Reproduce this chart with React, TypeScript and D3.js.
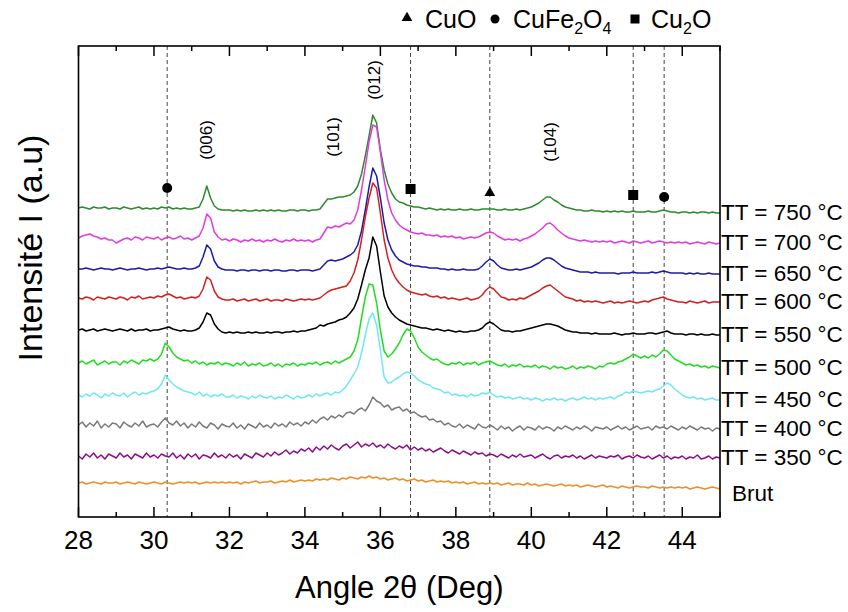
import React from 'react';
import * as d3 from 'd3';

// ---- Data ----
const angleStart = 28;
const angleStep = 0.1;
const angleCount = 171;
const angles = d3.range(angleCount).map(i => +(angleStart + i * angleStep).toFixed(1));

const seriesLabels = ['TT = 750 °C', 'TT = 700 °C', 'TT = 650 °C', 'TT = 600 °C', 'TT = 550 °C', 'TT = 500 °C', 'TT = 450 °C', 'TT = 400 °C', 'TT = 350 °C', 'Brut'];
const seriesColors = ['#2e8b2e', '#e03ce0', '#1c1caa', '#d42020', '#000000', '#22dd22', '#70e8f0', '#7a7a7a', '#8b0f8b', '#ef8f25'];
const seriesOffsets = [309, 279, 248, 219, 187, 154, 122, 92, 61, 34];

const s750 = [
  0, 1, 0, -1, 1, 0, 0, 1, -1, 0,
  0, -1, 1, 0, -1, 0, 1, -1, 0, -1,
  0, -1, 1, 0, 1, -1, 0, -1, 0, -1,
  -1, 0, 1, 9, 22, 10, 2, -1, -2, -2,
  -2, -3, -2, -3, -2, -3, -3, -2, -3, -2,
  -3, -2, -3, -2, -3, -3, -2, -2, -3, -2,
  -2, -3, -2, -2, -1, 4, 9, 9, 10, 11,
  11, 12, 13, 16, 22, 34, 52, 72, 93, 85,
  58, 38, 24, 15, 9, 6, 5, 3, 2, 1,
  1, 0, -1, 0, -1, -2, -1, -2, -1, -2,
  -2, -1, -2, -2, -1, -2, -2, -1, -1, -1,
  -1, -2, -2, -1, -2, -2, -1, -2, -1, 0,
  1, 3, 5, 8, 11, 11, 8, 6, 3, 1,
  0, -1, -2, -2, -3, -3, -2, -3, -3, -4,
  -3, -4, -3, -4, -3, -4, -4, -3, -4, -4,
  -4, -3, -4, -4, -3, -2, -3, -4, -4, -5,
  -4, -4, -5, -4, -5, -4, -4, -5, -4, -5,
  -5,
];
const s700 = [
  0, 2, 3, 4, 2, 1, -1, 0, -2, -2,
  -5, -3, -1, 0, -2, 1, 0, -2, 1, 0,
  -1, 1, -2, 0, 1, -1, 0, 2, -1, 0,
  -2, 0, 2, 10, 24, 20, 6, 1, -2, -1,
  -3, -1, -2, -4, -2, -3, -1, -3, -2, -4,
  -2, -3, -1, -3, -4, -2, -3, -1, -3, -2,
  -3, -2, -4, -2, -1, 5, 11, 10, 12, 11,
  13, 15, 14, 18, 28, 48, 71, 96, 113, 111,
  86, 58, 38, 25, 18, 13, 10, 8, 6, 5,
  4, 5, 3, 3, 2, 3, 1, 2, 1, 2,
  0, 1, -1, 0, 1, 0, 1, 3, 5, 6,
  5, 2, 0, -2, -1, -2, -1, -3, -1, 0,
  2, 4, 7, 10, 14, 15, 12, 8, 5, 2,
  0, -1, -2, -3, -2, -3, -4, -3, -4, -3,
  -4, -3, -5, -4, -3, -4, -5, -3, -4, -5,
  -4, -3, -5, -4, -3, -4, -5, -4, -5, -4,
  -5, -4, -6, -5, -4, -5, -6, -4, -5, -6,
  -5,
];
const s650 = [
  0, 0, 1, 0, -1, 0, 1, 0, 0, -1,
  0, 1, 0, -1, 0, 0, 1, 0, -1, 0,
  0, 1, 0, 1, 2, 1, 0, 0, 1, 0,
  0, 1, 3, 12, 24, 20, 8, 2, 0, -1,
  -1, -1, -2, -1, -1, -2, -1, -1, -2, -1,
  -1, -2, -1, -1, -2, -2, -1, -1, -2, -1,
  -1, -1, -2, -1, 0, 4, 8, 9, 8, 9,
  10, 12, 14, 17, 24, 38, 59, 82, 101, 93,
  71, 46, 29, 19, 13, 9, 7, 5, 4, 3,
  3, 2, 2, 1, 1, 1, 0, 0, -1, 0,
  -1, -1, 0, -1, -1, -1, 0, 3, 7, 10,
  8, 4, 1, 0, -1, -1, 0, -1, 0, 1,
  2, 4, 6, 9, 11, 11, 9, 6, 3, 1,
  0, -1, -2, -3, -3, -3, -4, -3, -4, -4,
  -4, -4, -4, -5, -4, -4, -4, -3, -4, -4,
  -4, -4, -3, -4, -3, -2, -3, -4, -4, -4,
  -4, -5, -4, -5, -4, -5, -5, -4, -5, -5,
  -5,
];
const s600 = [
  0, -1, 1, 0, -2, 1, 0, -1, 1, 0,
  -1, 1, 0, -2, 1, 0, 2, -1, 0, 1,
  0, 2, 1, 3, 4, 2, 0, 1, -1, 0,
  1, 0, 2, 9, 21, 18, 7, 1, -1, -2,
  -2, -1, -3, -2, -1, -3, -2, -1, -3, -2,
  -1, -3, -2, -2, -3, -1, -2, -3, -2, -1,
  -2, -1, -2, -1, 0, 3, 6, 8, 9, 10,
  11, 12, 17, 25, 38, 58, 81, 100, 115, 110,
  85, 58, 40, 28, 20, 15, 11, 8, 6, 5,
  4, 3, 4, 2, 1, 2, 0, 1, -1, 0,
  -1, -2, -1, 0, -2, -1, 0, 3, 8, 11,
  9, 5, 1, 0, -2, -1, -2, 0, -1, 1,
  3, 5, 7, 10, 12, 13, 10, 7, 4, 1,
  0, -1, -3, -2, -4, -3, -4, -3, -4, -5,
  -4, -3, -5, -4, -5, -4, -3, -4, -5, -4,
  -3, -4, -2, -1, 0, 1, -1, -2, -3, -4,
  -4, -5, -3, -4, -5, -4, -3, -5, -4, -4,
  -4,
];
const s550 = [
  0, 1, -1, 0, 1, -1, 0, 1, 0, -1,
  0, 1, 0, -1, 1, -1, 0, 0, 1, -1,
  0, 0, 1, 2, 3, 1, 0, -1, 0, -1,
  -1, 0, 2, 8, 17, 15, 6, 1, -2, -3,
  -2, -3, -2, -3, -3, -2, -3, -2, -3, -3,
  -2, -3, -2, -2, -3, -2, -2, -1, -2, -1,
  -1, 0, 1, 2, 5, 4, 6, 7, 8, 10,
  11, 13, 17, 22, 31, 45, 60, 72, 93, 84,
  58, 34, 23, 17, 13, 10, 8, 6, 5, 4,
  3, 2, 2, 1, 0, 1, 0, -1, 0, -1,
  -2, -1, -2, -2, -1, -1, 0, 2, 6, 8,
  6, 3, 0, -1, -1, -2, -1, -1, 0, 1,
  2, 3, 4, 5, 6, 6, 5, 4, 2, 0,
  -1, -2, -2, -3, -3, -3, -4, -3, -4, -4,
  -4, -4, -3, -4, -5, -4, -4, -3, -4, -4,
  -4, -3, -3, -4, -3, -2, -1, -3, -4, -4,
  -4, -5, -4, -4, -5, -4, -5, -5, -4, -5,
  -5,
];
const s500 = [
  0, 2, -1, 1, 3, -2, 0, 2, -1, 1,
  1, -2, 2, 0, 3, 1, -1, 3, 2, 4,
  2, 4, 9, 20, 16, 10, 6, 4, 2, 3,
  0, 2, -1, 1, -2, 0, -1, 1, -2, 0,
  -1, -3, 0, -2, 1, -3, -1, -2, 0, -3,
  -2, 0, -3, -1, -4, -1, -2, 0, -3, -1,
  -2, 0, -1, 1, -2, 0, 1, -1, 2, 0,
  2, 4, 6, 12, 23, 45, 66, 79, 78, 60,
  33, 12, 6, 9, 14, 20, 28, 34, 32, 25,
  16, 11, 8, 5, 3, 4, 1, -1, -2, 0,
  -1, 1, -2, 0, -1, 1, -2, 0, 1, 2,
  0, -2, -3, -1, -4, -2, -3, -1, -4, -3,
  -4, -2, -5, -3, -4, -6, -3, -5, -4, -6,
  -5, -3, -6, -4, -5, -3, -4, -6, -3, -4,
  -1, 0, -1, 1, 2, 4, 6, 9, 7, 5,
  7, 5, 8, 6, 9, 13, 12, 8, 4, 2,
  0, -2, -1, -3, -2, -4, -3, -5, -3, -4,
  -5,
];
const s450 = [
  0, -2, 1, -1, 2, 0, -3, 1, -1, 2,
  0, -1, 2, -2, 1, 3, 0, 2, 1, 3,
  4, 6, 11, 20, 15, 11, 8, 6, 4, 3,
  2, 0, 3, -1, 1, -2, 0, -1, 1, -2,
  -2, 0, -3, -1, -2, -4, -1, -3, 0, -2,
  -3, -1, -4, -2, -3, 0, -2, -4, -1, -3,
  -2, 0, -2, 1, -1, 1, 2, 0, 3, 2,
  5, 9, 15, 21, 28, 42, 60, 76, 82, 70,
  45, 18, 12, 13, 16, 18, 21, 23, 22, 19,
  15, 13, 11, 10, 7, 6, 5, 2, 3, 0,
  1, -1, 0, -2, 1, -1, 0, 2, 1, 3,
  0, -2, -1, -3, -2, -4, -3, -2, -4, -3,
  -5, -3, -4, -6, -4, -5, -3, -5, -4, -6,
  -4, -3, -5, -4, -2, -4, -3, -5, -3, -4,
  -3, -2, -4, -1, 0, 3, 2, 4, 3, 2,
  3, 4, 3, 5, 6, 9, 12, 10, 6, 3,
  0, -2, -3, -2, -4, -3, -5, -4, -3, -5,
  -5,
];
const s400 = [
  0, 3, -2, 2, -1, 4, -3, 1, -2, 2,
  1, -3, 3, 0, -2, 2, -1, 4, -2, 0,
  1, -2, 3, 7, 2, 0, 4, -1, 2, -3,
  1, -2, 3, -1, -3, 2, 0, -4, 1, -1,
  -2, 2, -3, 0, -4, 1, -1, -3, 2, -2,
  0, -3, 2, -1, 1, -2, 3, 0, 2, -1,
  3, 1, 5, 2, 6, 8, 5, 9, 7, 10,
  8, 12, 13, 11, 15, 17, 14, 20, 28, 24,
  22, 18, 20, 15, 17, 18, 14, 16, 12, 13,
  10, 8, 9, 5, 6, 3, 4, 0, 2, -1,
  -2, 1, -3, 0, -2, -4, 1, -2, -3, 0,
  -2, -5, -1, -4, -2, -6, -3, -1, -5, -2,
  -3, -5, -1, -4, -2, -3, -6, -2, -4, -1,
  -3, -5, -2, -4, -1, -3, -6, -2, -3, -4,
  -2, -5, -3, -1, -4, -2, -5, -3, -1, -4,
  -3, -2, -5, -1, -3, -2, -4, -1, -3, -5,
  -2, -4, -1, -3, -5, -2, -4, -3, -6, -3,
  -4,
];
const s350 = [
  0, -3, 2, -1, 3, -2, 1, -3, 2, 0,
  -2, 3, -1, 1, -3, 2, 0, -2, 3, -1,
  1, -2, 2, 0, -1, 3, -2, 1, -3, 2,
  -1, 2, -3, 1, 0, -2, 3, -1, 1, -2,
  2, -1, 1, -3, 2, 0, -2, 3, 1, -1,
  3, 0, 4, 1, 3, 6, 2, 5, 3, 7,
  5, 8, 4, 9, 6, 10, 7, 11, 8, 6,
  10, 12, 8, 11, 14, 9, 12, 10, 13, 9,
  11, 8, 12, 9, 7, 10, 8, 11, 6, 9,
  6, 8, 5, 7, 4, 6, 8, 5, 3, 6,
  4, 2, 5, 3, 1, 4, 2, 3, 0, 2,
  1, -1, 2, 0, -2, 1, -1, 2, -1, 0,
  1, -2, 0, 2, -1, -3, 0, 1, -2, 0,
  -1, 1, -2, 0, -3, -1, 1, -2, 0, -1,
  -2, 0, -1, 1, -3, -1, 0, -2, 1, -1,
  -2, 0, -3, -1, 1, -2, 0, -3, -1, -2,
  0, -3, -1, -2, 1, -3, -2, 0, -3, -1,
  -2,
];
const sBrut = [
  0, 1, -1, 0, 1, 0, -1, 1, 0, 0,
  1, -1, 0, 1, 0, -1, 1, 0, -1, 0,
  1, 0, -1, 1, 0, -1, 0, 1, 0, 1,
  0, 1, -1, 0, 1, 0, 1, 0, 1, 0,
  1, 0, 1, -1, 1, 0, 1, 2, 0, 1,
  1, 2, 0, 1, 2, 1, 3, 1, 2, 3,
  2, 3, 2, 4, 3, 4, 3, 5, 4, 3,
  5, 4, 6, 5, 4, 6, 5, 7, 5, 6,
  4, 5, 3, 4, 5, 3, 4, 2, 3, 4,
  2, 3, 1, 2, 3, 1, 2, 1, 2, 0,
  1, 0, 1, -1, 0, 1, -1, 0, -1, 0,
  -1, 0, -2, -1, 0, -2, -1, -1, -2, 0,
  -2, -1, -3, -2, -1, -2, -3, -2, -1, -3,
  -2, -3, -2, -4, -3, -2, -3, -4, -3, -2,
  -4, -3, -4, -5, -3, -4, -5, -4, -3, -4,
  -4, -5, -3, -4, -5, -4, -5, -4, -5, -4,
  -5, -4, -6, -5, -4, -5, -6, -5, -4, -5,
  -6,
];
const seriesValues = [s750, s700, s650, s600, s550, s500, s450, s400, s350, sBrut];

// reference lines & phase markers
const refAngles = [30.35, 36.8, 38.9, 42.7, 43.52];
const markerPhases = ['CuFe2O4', 'Cu2O', 'CuO', 'Cu2O', 'CuFe2O4'];
const markerHeights = [329, 328, 324, 322, 320];

// hkl annotations
const hklLabels = ['(006)', '(101)', '(012)', '(104)'];
const hklAngles = [31.4, 34.75, 35.85, 40.5];
const hklHeights = [377, 380, 437, 375];

const xTicks = d3.range(28, 46, 1);
const xTickLabels = ['28', '30', '32', '34', '36', '38', '40', '42', '44'];

// ---- Layout ----
const W = 848, H = 612;
const L = 78.5, R = 720, T = 46, B = 517;
const FONT = '"Liberation Sans", Arial, Helvetica, sans-serif';

function Marker({ phase, cx, cy, s }: { phase: string; cx: number; cy: number; s: number }) {
  if (phase === 'CuO') {
    const tri = d3.symbol().type(d3.symbolTriangle).size(s * s * 0.5)();
    return <path d={tri || ''} transform={`translate(${cx},${cy})`} fill="#000" />;
  }
  if (phase === 'Cu2O') {
    return <rect x={cx - s / 2} y={cy - s / 2} width={s} height={s} fill="#000" />;
  }
  return <circle cx={cx} cy={cy} r={s / 2} fill="#000" />;
}

export default function App() {
  const x = d3.scaleLinear().domain([28, 45]).range([L, R]);
  const y = d3.scaleLinear().domain([0, 471]).range([B, T]);

  const lines = seriesValues.map((vals, si) => {
    const gen = d3.line<number>()
      .x((_, i) => x(angles[i]))
      .y(v => y(seriesOffsets[si] + v));
    return gen(vals.slice(0, angles.length)) || '';
  });

  return (
    <svg width={W} height={H} style={{ position: 'absolute', left: 0, top: 0, background: '#fff' }} fontFamily={FONT}>
      <rect x={0} y={0} width={W} height={H} fill="#fff" />
      {/* reference dashed lines */}
      {refAngles.map((a, i) => (
        <line key={'r' + i} x1={x(a)} x2={x(a)} y1={T} y2={B} stroke="#444" strokeWidth={1} strokeDasharray="4,3" />
      ))}
      {/* series */}
      {lines.map((d, i) => (
        <path key={'s' + i} d={d} fill="none" stroke={seriesColors[i]} strokeWidth={1.5} strokeLinejoin="round" />
      ))}
      {/* markers */}
      {refAngles.map((a, i) => (
        <Marker key={'m' + i} phase={markerPhases[i]} cx={x(a)} cy={y(markerHeights[i])} s={10} />
      ))}
      {/* hkl labels */}
      {hklLabels.map((t, i) => (
        <text key={'h' + i} transform={`translate(${x(hklAngles[i])},${y(hklHeights[i])}) rotate(-90)`}
          textAnchor="middle" dominantBaseline="central" fontSize={17} fill="#000">{t}</text>
      ))}
      {/* frame */}
      <rect x={L} y={T} width={R - L} height={B - T} fill="none" stroke="#000" strokeWidth={1.6} />
      {/* ticks */}
      {xTicks.map(t => {
        const major = t % 2 === 0;
        const len = major ? 10 : 5;
        return (
          <g key={'t' + t}>
            <line x1={x(t)} x2={x(t)} y1={B} y2={B - len} stroke="#000" strokeWidth={1.5} />
            <line x1={x(t)} x2={x(t)} y1={T} y2={T + len} stroke="#000" strokeWidth={1.5} />
          </g>
        );
      })}
      {xTickLabels.map(t => (
        <text key={'l' + t} x={x(+t)} y={549} textAnchor="middle" fontSize={26} fill="#000">{t}</text>
      ))}
      {/* axis titles */}
      <text x={(L + R) / 2} y={598} textAnchor="middle" fontSize={31} fill="#000">Angle 2θ (Deg)</text>
      <text transform={`translate(42,248) rotate(-90)`} textAnchor="middle" fontSize={34} fill="#000">Intensité I (a.u)</text>
      {/* series labels */}
      {seriesLabels.map((lab, i) => {
        const vals = seriesValues[i];
        const yy = y(seriesOffsets[i] + vals[vals.length - 1]);
        const isBrut = lab === 'Brut';
        return (
          <text key={'sl' + i} x={isBrut ? 732 : 721} y={yy + (isBrut ? 4 : -1)} dominantBaseline="central" fontSize={22.5} fill="#000">{lab}</text>
        );
      })}
      {/* legend */}
      <Marker phase="CuO" cx={407} cy={18} s={10} />
      <text x={425} y={28} fontSize={25} fill="#000">CuO</text>
      <Marker phase="CuFe2O4" cx={495} cy={19} s={9} />
      <text x={513} y={28} fontSize={25} fill="#000">CuFe<tspan fontSize={16} dy={6}>2</tspan><tspan dy={-6}>O</tspan><tspan fontSize={16} dy={6}>4</tspan></text>
      <Marker phase="Cu2O" cx={635} cy={19} s={9} />
      <text x={651} y={28} fontSize={25} fill="#000">Cu<tspan fontSize={16} dy={6}>2</tspan><tspan dy={-6}>O</tspan></text>
    </svg>
  );
}
